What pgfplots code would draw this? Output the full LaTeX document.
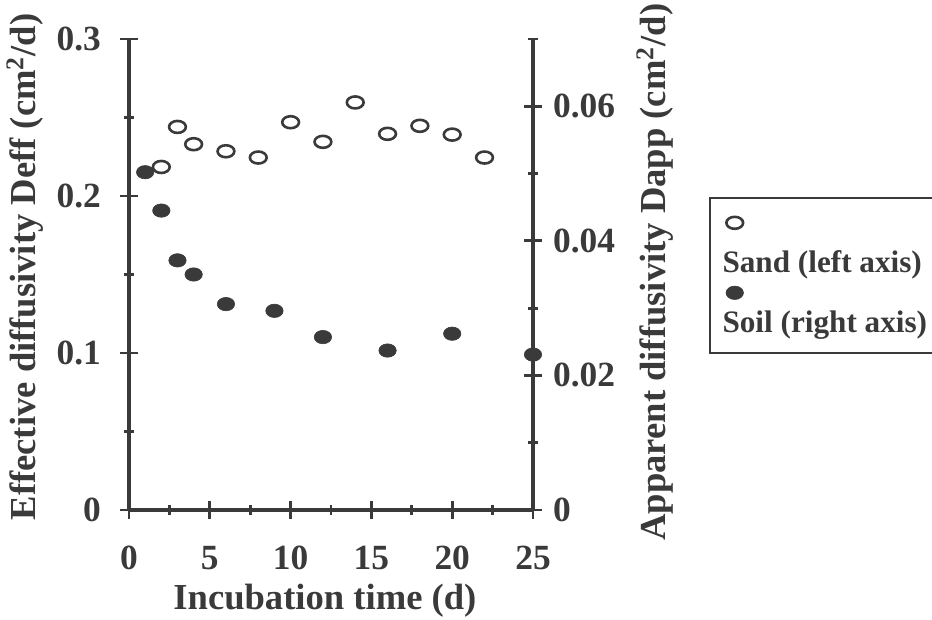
\documentclass[border=0pt]{standalone}
\usepackage{fontspec}
\setmainfont{Liberation Serif}
\usepackage{pgfplots}
\pgfplotsset{compat=1.18}
\definecolor{ink}{HTML}{3A3A3A}
\pgfplotsset{
  common/.style={
    scale only axis, width=202pt, height=235.5pt,
    xmin=0, xmax=25, clip=false,
    axis line style={ink, line width=1.6pt},
    tick style={ink, line width=1.4pt},
    tick align=center,
    major tick length=9pt, minor tick length=5pt,
    scaled ticks=false,
    /pgf/number format/assume math mode=true,
    tick label style={font=\fontsize{17.7}{20}\selectfont\bfseries, text=ink},
    label style={font=\fontsize{18.3}{20}\selectfont\bfseries, text=ink},
  },
  sandmark/.style={only marks, mark=o, mark size=3.0pt,
    mark options={xscale=1.4, line width=1.3pt, draw=ink, fill=none}},
  soilmark/.style={only marks, mark=*, mark size=3.35pt,
    mark options={xscale=1.3, draw=ink, fill=ink, line width=0.3pt}},
  sandleg/.style={legend image code/.code={\path (0,0); \draw[##1, overlay] plot coordinates {(6.5pt,11.25pt)};}},
  soilleg/.style={legend image code/.code={\path (0,0); \draw[##1, overlay] plot coordinates {(6.5pt,6.25pt)};}},
}
\begin{document}
\begin{tikzpicture}
\path[use as bounding box] (-64.5pt,-55pt) rectangle (401.5pt,255pt);
\begin{axis}[common,
  axis x line*=bottom, axis y line*=left,
  ymin=0, ymax=0.3,
  xtick={0,5,10,15,20,25},
  minor xtick={2.5,7.5,12.5,17.5,22.5},
  ytick={0,0.1,0.2,0.3}, yticklabels={0,0.1,0.2,0.3},
  minor ytick={0.05,0.15,0.25},
  xticklabel style={yshift=-10pt},
  yticklabel style={xshift=-6pt},
  xlabel={Incubation time (d)},
  ylabel={Effective diffusivity Deff (cm\textsuperscript{2}/d)},
  xlabel style={at={(axis description cs:0.485,-0.193)}, anchor=center},
  ylabel style={at={(axis description cs:-0.2574,0.516)}, anchor=center},
]
\addplot[sandmark] coordinates {
  (2,0.2185) (3,0.244) (4,0.233) (6,0.2285) (8,0.2245) (10,0.247)
  (12,0.2345) (14,0.2596) (16,0.2396) (18,0.2447) (20,0.2391) (22,0.2245)
};
\end{axis}
\begin{axis}[common,
  axis x line=none, axis y line*=right,
  ymin=0, ymax=0.07,
  ytick={0,0.02,0.04,0.06}, yticklabels={0,0.02,0.04,0.06},
  minor ytick={0.01,0.03,0.05,0.07},
  yticklabel style={xshift=2pt},
  ylabel={Apparent diffusivity Dapp (cm\textsuperscript{2}/d)},
  ylabel style={at={(axis description cs:1.302,0.505)}, anchor=center},
  legend cell align=left,
  legend style={at={(axis description cs:1.436,0.6645)}, anchor=north west,
    draw=ink, line width=0.8pt, fill=white,
    inner xsep=5.5pt, inner ysep=0pt, column sep=0pt, row sep=-17.5pt,
    nodes={inner sep=0pt, text height=37.5pt, text depth=10pt,
      font=\fontsize{15.6}{18}\selectfont\bfseries, text=ink}},
]
\addlegendimage{sandmark, sandleg}
\addlegendentry{Sand (left axis)}
\addplot[soilmark, soilleg] coordinates {
  (1,0.0502) (2,0.0445) (3,0.0371) (4,0.035) (6,0.0306) (9,0.0296)
  (12,0.0257) (16,0.0237) (20,0.0262) (25,0.0231)
};
\addlegendentry{Soil (right axis)}
\end{axis}
\end{tikzpicture}
\end{document}
